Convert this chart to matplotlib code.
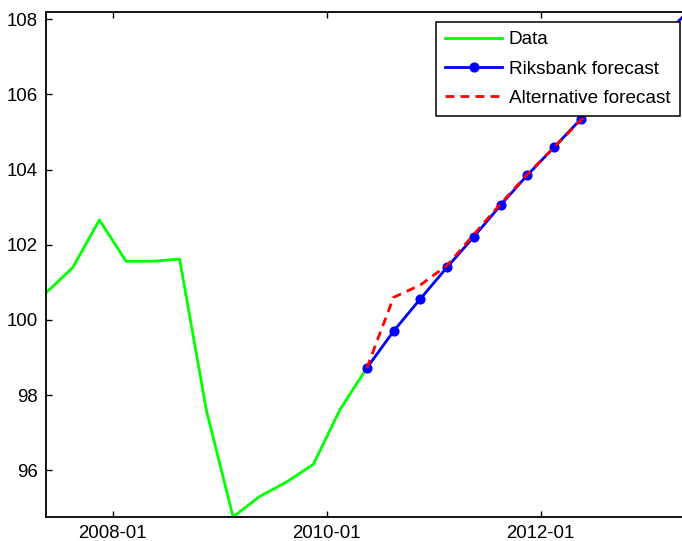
import matplotlib
matplotlib.use("Agg")
import matplotlib.pyplot as plt

plt.rcParams['font.family'] = ['Liberation Sans', 'DejaVu Sans']

# ---- data (quarterly, values) ----
data_quarters = ['2007Q2', '2007Q3', '2007Q4', '2008Q1', '2008Q2', '2008Q3', '2008Q4',
                 '2009Q1', '2009Q2', '2009Q3', '2009Q4', '2010Q1', '2010Q2']
data_values = [100.72, 101.39, 102.66, 101.56, 101.56, 101.62, 97.60,
               94.76, 95.31, 95.69, 96.16, 97.62, 98.72]

forecast_quarters = ['2010Q2', '2010Q3', '2010Q4', '2011Q1', '2011Q2', '2011Q3', '2011Q4',
                     '2012Q1', '2012Q2', '2012Q3', '2012Q4', '2013Q1', '2013Q2']
riksbank_values = [98.72, 99.70, 100.56, 101.40, 102.21, 103.05, 103.85,
                   104.59, 105.34, 106.06, 106.77, 107.48, 108.19]
alternative_values = [98.72, 100.60, 100.93, 101.45, 102.27, 103.09, 103.87,
                      104.59, 105.31, 106.06, 106.77, 107.48, 108.19]

tick_years = [2008, 2010, 2012]
tick_labels = ['2008-01', '2010-01', '2012-01']
y_ticks = [96, 98, 100, 102, 104, 106, 108]


def q2x(q):
    """Quarter label -> decimal year at the middle of the quarter."""
    year, qn = q.split('Q')
    return int(year) + (int(qn) - 1) * 0.25 + 0.125


xd = [q2x(q) for q in data_quarters]
xf = [q2x(q) for q in forecast_quarters]

fig = plt.figure(figsize=(6.82, 5.41), dpi=100)
ax = fig.add_axes([45.9 / 682, 24 / 541, 641.8 / 682, 505 / 541])

ax.plot(xd, data_values, color=(0, 1, 0), lw=2.0, label='Data')
ax.plot(xf, riksbank_values, color=(0, 0, 1), lw=2.0, marker='o', ms=6.3,
        label='Riksbank forecast')
ax.plot(xf, alternative_values, color=(1, 0, 0), lw=2.0, ls=(0, (3.2, 2.2)),
        label='Alternative forecast')

allx = xd + xf
ally = data_values + riksbank_values + alternative_values
ax.set_xlim(min(allx), max(allx))
ax.set_ylim(min(ally), max(ally))

ax.set_xticks(tick_years)
ax.set_xticklabels(tick_labels)
ax.set_yticks(y_ticks)
ax.set_yticklabels([str(v) for v in y_ticks])

ax.tick_params(direction='in', length=4.5, width=1.0, labelsize=13.4, pad=6,
               top=True, right=True, colors='black')
for s in ax.spines.values():
    s.set_linewidth(1.3)
    s.set_color('black')

leg = ax.legend(loc='upper right', bbox_to_anchor=(0.988, 0.981), borderaxespad=0,
                fontsize=13.7, handlelength=3.0, handletextpad=0.35, labelspacing=0.62,
                borderpad=0.5, fancybox=False, framealpha=1, edgecolor='black')
leg.get_frame().set_linewidth(1.1)

fig.savefig('out.png', dpi=100)
